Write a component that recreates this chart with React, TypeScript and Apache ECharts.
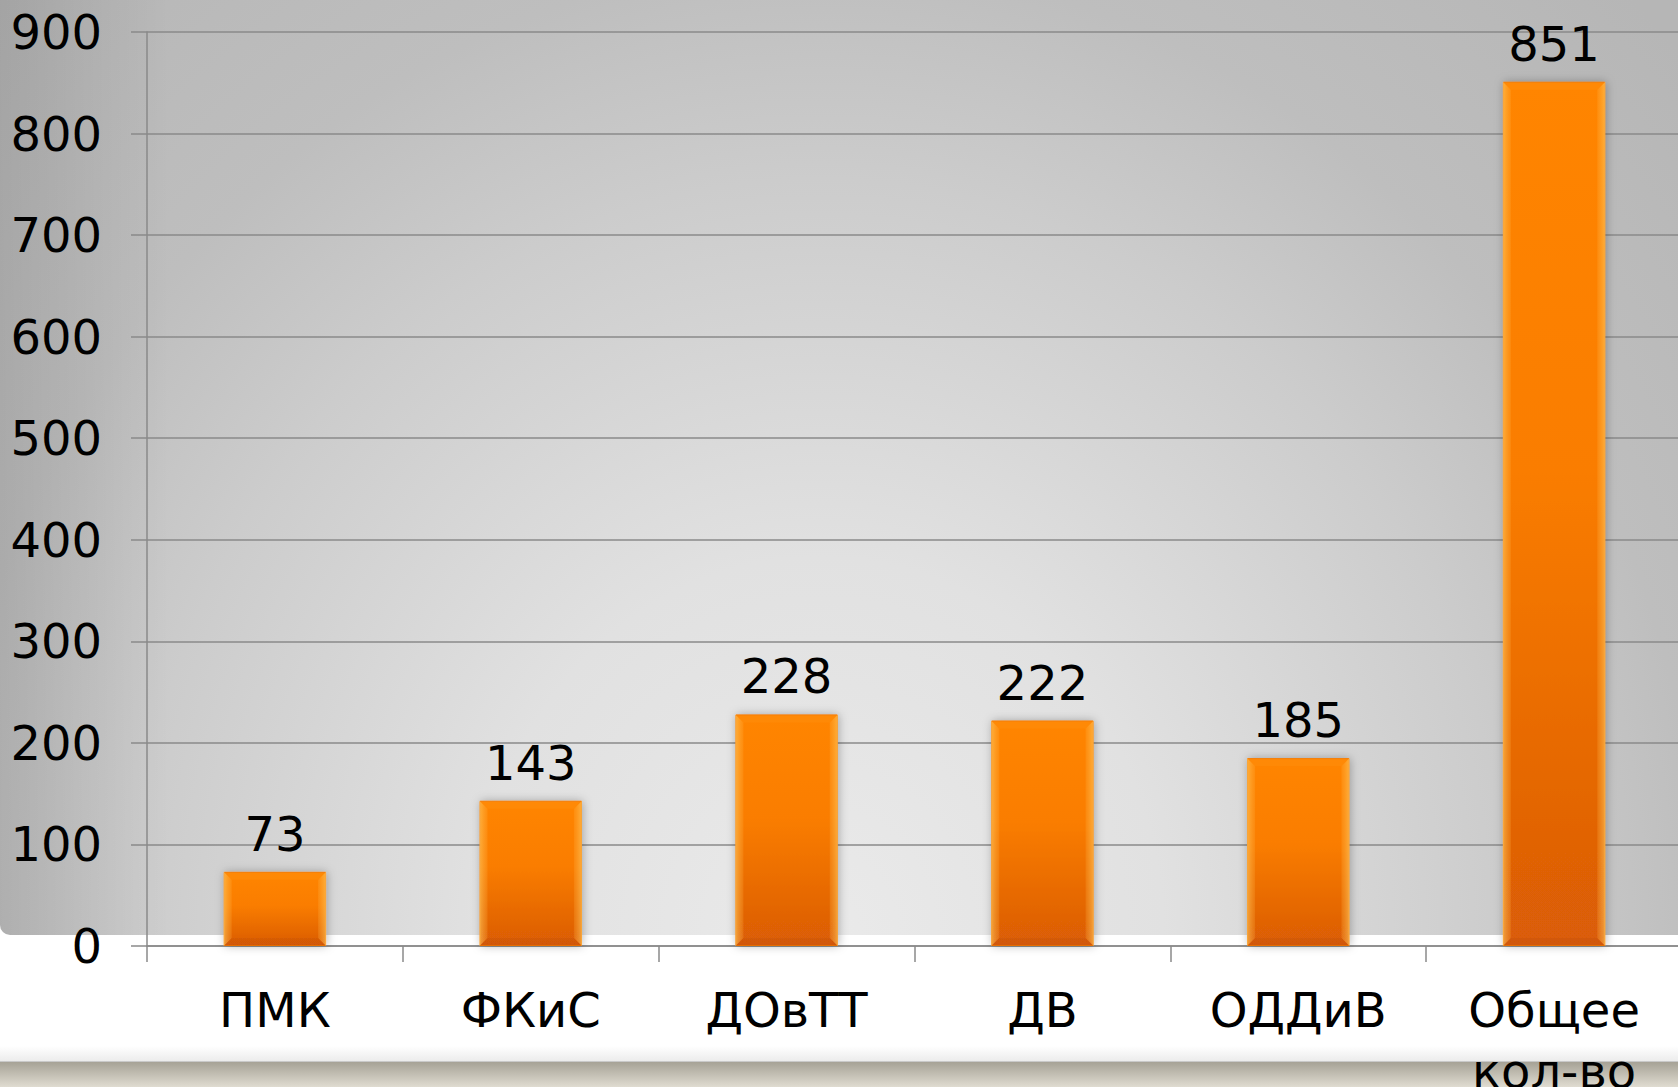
import React, { useEffect, useRef } from "react";
import * as echarts from "echarts";

const categories = ["ПМК", "ФКиС", "ДОвТТ", "ДВ", "ОДДиВ", "Общее\nкол-во"];
const values = [73, 143, 228, 222, 185, 851];
const yTicks = { min: 0, max: 900, interval: 100 };

const FONT = "'DejaVu Sans', Verdana, sans-serif";
const BAR_RATIO = 0.4;

export default function App() {
  const ref = useRef<HTMLDivElement>(null);

  useEffect(() => {
    document.body.style.margin = "0";
    const chart = echarts.init(ref.current!, null, { renderer: "svg" });

    const bevelData = values.map((v, i) => [i, v]);

    const option: any = {
      animation: false,
      backgroundColor: "transparent",
      grid: {
        left: 147,
        top: 32,
        width: 1535,
        height: 914,
        containLabel: false,
        outerBoundsMode: "none",
      },
      xAxis: {
        type: "category",
        data: categories,
        boundaryGap: true,
        axisLine: { show: true, lineStyle: { color: "#8a8a8a", width: 1.5 } },
        axisTick: { show: true, length: 16, interval: 0, lineStyle: { color: "#8a8a8a", width: 1.5 } },
        axisLabel: {
          interval: 0,
          margin: 33,
          fontSize: 48,
          lineHeight: 61,
          fontFamily: FONT,
          color: "#000",
        },
        splitLine: { show: false },
      },
      yAxis: {
        type: "value",
        min: yTicks.min,
        max: yTicks.max,
        interval: yTicks.interval,
        axisLine: { show: true, lineStyle: { color: "#8a8a8a", width: 1.5 } },
        axisTick: { show: true, length: 16, lineStyle: { color: "#8a8a8a", width: 1.5 } },
        axisLabel: { margin: 45, fontSize: 48, fontFamily: FONT, color: "#000" },
        splitLine: { show: true, lineStyle: { color: "#8a8a8a", width: 1.5 } },
      },
      series: [
        {
          type: "bar",
          data: values,
          barWidth: BAR_RATIO * 100 + "%",
          itemStyle: {
            color: new echarts.graphic.LinearGradient(0, 0, 0, 1, [
              { offset: 0, color: "#ff8500" },
              { offset: 0.45, color: "#fa7d02" },
              { offset: 1, color: "#da5c07" },
            ]),
            borderColor: "#f27400",
            borderWidth: 1,
            shadowBlur: 10,
            shadowColor: "rgba(0,0,0,0.28)",
            shadowOffsetX: 1,
          },
          label: {
            show: true,
            position: "top",
            distance: 14,
            fontSize: 48,
            fontFamily: FONT,
            color: "#000",
          },
          z: 2,
        },
        {
          type: "custom",
          data: bevelData,
          silent: true,
          z: 3,
          renderItem: (params: any, api: any) => {
            const idx = api.value(0);
            const v = api.value(1);
            const top = api.coord([idx, v]);
            const base = api.coord([idx, 0]);
            const bw = api.size([1, 0])[0] * BAR_RATIO;
            const x0 = top[0] - bw / 2;
            const x1 = top[0] + bw / 2;
            const y0 = top[1];
            const y1 = base[1];
            const b = Math.min(8, (y1 - y0) / 2);
            return {
              type: "group",
              children: [
                {
                  type: "polygon",
                  shape: { points: [[x0, y0], [x0 + b, y0 + b], [x0 + b, y1 - b], [x0, y1]] },
                  style: {
                    fill: new echarts.graphic.LinearGradient(0, 0, 1, 0, [
                      { offset: 0, color: "rgba(255,205,100,0.6)" },
                      { offset: 1, color: "rgba(255,180,70,0.2)" },
                    ]),
                  },
                },
                {
                  type: "polygon",
                  shape: { points: [[x1, y0], [x1 - b, y0 + b], [x1 - b, y1 - b], [x1, y1]] },
                  style: {
                    fill: new echarts.graphic.LinearGradient(1, 0, 0, 0, [
                      { offset: 0, color: "rgba(255,205,100,0.6)" },
                      { offset: 1, color: "rgba(255,180,70,0.2)" },
                    ]),
                  },
                },
                {
                  type: "polygon",
                  shape: { points: [[x0, y0], [x1, y0], [x1 - b, y0 + b], [x0 + b, y0 + b]] },
                  style: { fill: "rgba(255,150,20,0.3)" },
                },
                {
                  type: "polygon",
                  shape: { points: [[x0, y1], [x1, y1], [x1 - b, y1 - b], [x0 + b, y1 - b]] },
                  style: { fill: "rgba(140,50,0,0.1)" },
                },
              ],
            };
          },
        },
      ],
    };

    chart.setOption(option);
    return () => chart.dispose();
  }, []);

  return (
    <div
      style={{
        position: "fixed",
        left: 0,
        top: 0,
        width: 1678,
        height: 1087,
        overflow: "hidden",
        background: "#ffffff",
      }}
    >
      <div
        style={{
          position: "absolute",
          left: 0,
          top: 0,
          width: 1678,
          height: 935,
          borderBottomLeftRadius: 10,
          background:
            "linear-gradient(to right, rgba(0,0,0,0.1) 0px, rgba(0,0,0,0) 170px), radial-gradient(ellipse 980px 1080px at 820px 935px, #eaeaea 0%, #e1e1e1 35%, #cccccc 70%, #bebebe 90%, #b6b6b6 120%)",
        }}
      />
      <div
        style={{
          position: "absolute",
          left: 0,
          top: 1046,
          width: 1678,
          height: 15,
          background: "linear-gradient(#ffffff, #ececec)",
        }}
      />
      <div
        style={{
          position: "absolute",
          left: 0,
          top: 1061,
          width: 1678,
          height: 26,
          borderTop: "1px solid #c9c9c9",
          background: "linear-gradient(#a6a296, #e2ded3)",
        }}
      />
      <div ref={ref} style={{ position: "absolute", left: 0, top: 0, width: 1678, height: 1087 }} />
    </div>
  );
}
